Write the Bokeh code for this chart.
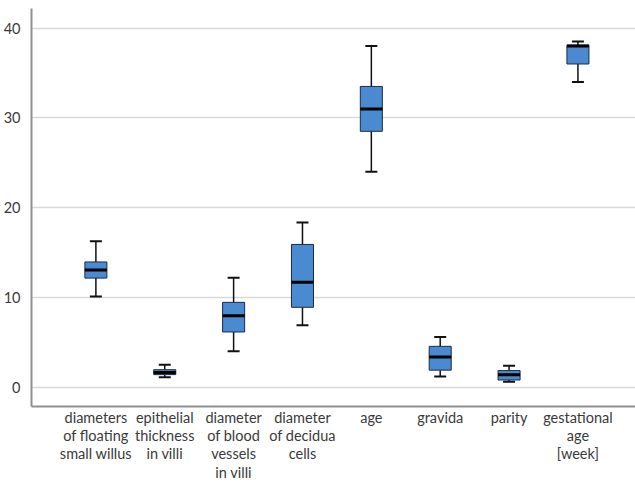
from bokeh.plotting import figure
from bokeh.models import FixedTicker, Range1d, ColumnDataSource
from bokeh.embed import file_html
from bokeh.resources import INLINE

categories = ["diameters\nof floating\nsmall willus", "epithelial\nthickness\nin villi",
              "diameter\nof blood\nvessels\nin villi", "diameter\nof decidua\ncells",
              "age", "gravida", "parity", "gestational\nage\n[week]"]
positions = [1, 2, 3, 4, 5, 6, 7, 8]
lower_whisker = [10.1, 1.1, 4.0, 6.9, 24.0, 1.2, 0.6, 34.0]
q1 = [12.15, 1.4, 6.15, 8.9, 28.5, 1.9, 0.8, 36.0]
median = [13.05, 1.65, 7.95, 11.7, 31.0, 3.35, 1.4, 38.0]
q3 = [13.95, 1.95, 9.45, 15.9, 33.5, 4.55, 1.85, 38.1]
upper_whisker = [16.25, 2.5, 12.2, 18.35, 38.0, 5.6, 2.4, 38.5]
y_ticks = [0, 10, 20, 30, 40]

FONT = "Lato"
TXT = "#3a3a3a"

p = figure(width=635, height=483, output_backend="svg", toolbar_location=None,
           x_range=Range1d(0.065, 8.836), y_range=Range1d(-2.15, 42.18),
           min_border_left=28, min_border_right=0, min_border_top=8, min_border_bottom=75)
p.outline_line_color = None
p.background_fill_color = "white"

src = ColumnDataSource(dict(x=positions, lw=lower_whisker, q1=q1, med=median, q3=q3, uw=upper_whisker,
                            xl=[v - 0.32 / 2 for v in positions], xr=[v + 0.32 / 2 for v in positions],
                            cl=[v - 0.087 for v in positions], cr=[v + 0.087 for v in positions]))

# whiskers
p.segment(x0="x", y0="q3", x1="x", y1="uw", source=src, line_color="#111111", line_width=1.5)
p.segment(x0="x", y0="q1", x1="x", y1="lw", source=src, line_color="#111111", line_width=1.5)
p.segment(x0="cl", y0="uw", x1="cr", y1="uw", source=src, line_color="#111111", line_width=2)
p.segment(x0="cl", y0="lw", x1="cr", y1="lw", source=src, line_color="#111111", line_width=2)
# boxes
p.vbar(x="x", width=0.32, bottom="q1", top="q3", source=src,
       fill_color="#4a8ad0", line_color="#1c2b45", line_width=1)
# medians
p.segment(x0="xl", y0="med", x1="xr", y1="med", source=src, line_color="#000000", line_width=3)

p.xgrid.grid_line_color = None
p.ygrid.grid_line_color = "#d9d9d9"
p.ygrid.grid_line_width = 1.5
p.ygrid.ticker = FixedTicker(ticks=y_ticks)

p.yaxis.ticker = FixedTicker(ticks=y_ticks)
p.xaxis.ticker = FixedTicker(ticks=positions)
p.xaxis.major_label_overrides = {pos: lab for pos, lab in zip(positions, categories)}

for ax in (p.xaxis[0], p.yaxis[0]):
    ax.axis_line_color = "#8f8f8f"
    ax.axis_line_width = 2
    ax.major_tick_line_color = None
    ax.minor_tick_line_color = None
    ax.major_label_text_font = FONT
    ax.major_label_text_font_size = "14.5px"
    ax.major_label_text_color = TXT
p.yaxis.major_label_standoff = 5
p.xaxis.major_label_standoff = -4
p.xaxis.major_label_text_line_height = 1.08

open("out.html", "w").write(file_html(p, INLINE))
